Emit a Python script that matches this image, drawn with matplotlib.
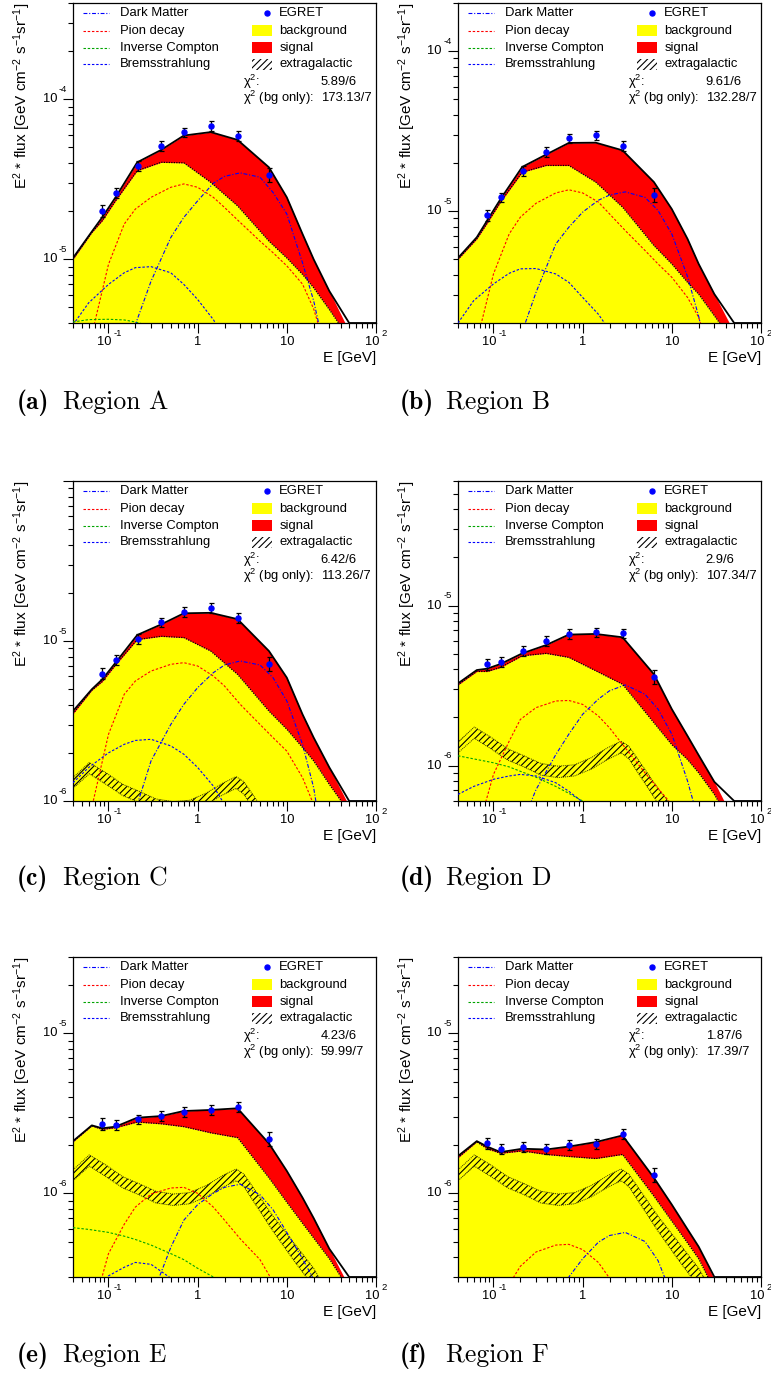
import numpy as np
import matplotlib
matplotlib.use("Agg")
import matplotlib.pyplot as plt
from matplotlib.lines import Line2D
from matplotlib.patches import Rectangle
from matplotlib.transforms import Bbox, TransformedBbox, offset_copy, blended_transform_factory

plt.rcParams['font.family'] = ['Liberation Sans', 'DejaVu Sans']
plt.rcParams['mathtext.fontset'] = 'custom'
plt.rcParams['mathtext.rm'] = 'Liberation Sans'
plt.rcParams['mathtext.it'] = 'Liberation Sans:italic'
plt.rcParams['hatch.linewidth'] = 0.8
plt.rcParams['hatch.color'] = 'black'

# EGRET bin centres and relative errors
E_EGRET = [0.0837, 0.122, 0.212, 0.387, 0.707, 1.41, 2.83, 6.32]
EGRET_REL_ERR = [0.08, 0.07, 0.07, 0.07, 0.07, 0.07, 0.07, 0.10]

# energies where total / background model is tabulated
E_MODEL = [0.04, 0.065, 0.085, 0.12, 0.21, 0.39, 0.7, 1.4, 2.8, 6.3, 10, 15, 20, 30, 50, 100]
# energies for the individual components
E_COMP = [0.04, 0.06, 0.1, 0.15, 0.2, 0.3, 0.5, 0.7, 1, 1.5, 2, 3, 5, 7, 10, 15, 20, 30]

# extragalactic band (same in every region)
EG_E = [0.04, 0.061, 0.094, 0.145, 0.22, 0.34, 0.53, 0.81, 1.25, 1.9, 2.7, 3.3, 7.0, 12.0, 20.0, 30.0]
EG_HI = [1.40e-6, 1.74e-6, 1.50e-6, 1.27e-6, 1.15e-6, 1.03e-6, 9.9e-7, 1.01e-6,
         1.12e-6, 1.29e-6, 1.42e-6, 1.32e-6, 7.2e-7, 4.9e-7, 3.4e-7, 2.3e-7]
EG_LO = [1.20e-6, 1.48e-6, 1.27e-6, 1.08e-6, 9.8e-7, 8.7e-7, 8.4e-7, 8.6e-7,
         9.5e-7, 1.09e-6, 1.20e-6, 1.10e-6, 5.8e-7, 3.8e-7, 2.6e-7, 1.8e-7]

# ---- Region A ----
egret_A = [2.01e-5, 2.60e-5, 3.84e-5, 5.10e-5, 6.21e-5, 6.81e-5, 5.94e-5, 3.38e-5]
total_A = [1.02e-5, 1.49e-5, 1.83e-5, 2.44e-5, 4.04e-5, 4.83e-5, 5.94e-5, 6.24e-5,
           5.58e-5, 3.76e-5, 2.44e-5, 1.44e-5, 1.0e-5, 6.33e-6, 3.55e-6, 1.0e-6]
bg_A = [1.0e-5, 1.47e-5, 1.74e-5, 2.32e-5, 3.58e-5, 4.04e-5, 4.01e-5, 3.03e-5,
        2.16e-5, 1.30e-5, 1.02e-5, 8.05e-6, 6.64e-6, 4.85e-6, 3.2e-6, 1.0e-6]
dm_A = [1e-7, 1e-7, 5e-7, 2.0e-6, 3.9e-6, 7.3e-6, 1.37e-5, 1.83e-5, 2.32e-5, 2.99e-5,
        3.30e-5, 3.47e-5, 3.26e-5, 2.62e-5, 1.92e-5, 9.5e-6, 5.5e-6, 2.0e-6]
pion_A = [1e-6, 2.8e-6, 9.3e-6, 1.66e-5, 2.06e-5, 2.44e-5, 2.82e-5, 2.96e-5, 2.82e-5,
          2.44e-5, 2.11e-5, 1.70e-5, 1.30e-5, 1.10e-5, 9.1e-6, 7.0e-6, 4.9e-6, 2.3e-6]
ic_A = [4.06e-6, 4.2e-6, 4.22e-6, 4.18e-6, 4.06e-6, 3.82e-6, 3.4e-6, 3.1e-6, 2.8e-6,
        2.4e-6, 2.1e-6, 1.7e-6, 1.2e-6, 9e-7, 6e-7, 4e-7, 3e-7, 2e-7]
brems_A = [3.9e-6, 5.35e-6, 6.97e-6, 8.24e-6, 8.87e-6, 9.0e-6, 8.24e-6, 6.97e-6, 5.61e-6,
           4.2e-6, 3.2e-6, 2.0e-6, 1.0e-6, 6e-7, 3e-7, 1e-7, 5e-8, 2e-8]

# ---- Region B ----
egret_B = [9.48e-6, 1.22e-5, 1.78e-5, 2.34e-5, 2.85e-5, 2.98e-5, 2.55e-5, 1.26e-5]
total_B = [5.1e-6, 6.87e-6, 8.75e-6, 1.19e-5, 1.89e-5, 2.26e-5, 2.67e-5, 2.68e-5,
           2.40e-5, 1.52e-5, 1.03e-5, 6.71e-6, 4.68e-6, 3.03e-6, 1.75e-6, 5e-7]
bg_B = [5.0e-6, 6.71e-6, 8.41e-6, 1.14e-5, 1.75e-5, 1.93e-5, 1.93e-5, 1.52e-5,
        1.06e-5, 6.1e-6, 4.68e-6, 3.59e-6, 3.03e-6, 2.22e-6, 1.5e-6, 5e-7]
dm_B = [1e-7, 1e-7, 3e-7, 1.0e-6, 1.63e-6, 3.11e-6, 6.24e-6, 7.94e-6, 9.86e-6, 1.17e-5,
        1.26e-5, 1.32e-5, 1.22e-5, 1.01e-5, 7.2e-6, 3.9e-6, 2.2e-6, 8e-7]
pion_B = [5e-7, 1.28e-6, 4.05e-6, 7.21e-6, 9.17e-6, 1.12e-5, 1.30e-5, 1.36e-5, 1.30e-5,
          1.14e-5, 9.62e-6, 7.57e-6, 5.68e-6, 4.68e-6, 3.86e-6, 2.89e-6, 2.17e-6, 1.0e-6]
ic_B = [1.6e-6, 1.6e-6, 1.6e-6, 1.55e-6, 1.5e-6, 1.45e-6, 1.3e-6, 1.2e-6, 1.1e-6,
        1.0e-6, 9e-7, 7.5e-7, 5.5e-7, 4e-7, 3e-7, 2e-7, 1.5e-7, 1e-7]
brems_B = [2.0e-6, 2.76e-6, 3.51e-6, 4.09e-6, 4.36e-6, 4.38e-6, 4.05e-6, 3.59e-6, 2.89e-6,
           2.27e-6, 1.8e-6, 1.1e-6, 5e-7, 3e-7, 1.5e-7, 7e-8, 4e-8, 2e-8]

# ---- Region C ----
egret_C = [6.25e-6, 7.64e-6, 1.03e-5, 1.31e-5, 1.52e-5, 1.61e-5, 1.39e-5, 7.18e-6]
total_C = [3.65e-6, 4.99e-6, 5.75e-6, 7.32e-6, 1.09e-5, 1.27e-5, 1.49e-5, 1.50e-5,
           1.37e-5, 8.66e-6, 5.90e-6, 3.48e-6, 2.49e-6, 1.62e-6, 9.3e-7, 3e-7]
bg_C = [3.51e-6, 4.92e-6, 5.57e-6, 7.08e-6, 1.02e-5, 1.07e-5, 1.05e-5, 8.66e-6,
        6.19e-6, 3.65e-6, 2.81e-6, 2.16e-6, 1.78e-6, 1.27e-6, 8.5e-7, 3e-7]
dm_C = [1e-7, 1e-7, 2e-7, 4e-7, 8.7e-7, 1.78e-6, 3.01e-6, 4.02e-6, 5.11e-6, 6.34e-6,
        7.08e-6, 7.5e-6, 7.08e-6, 5.9e-6, 4.22e-6, 2.26e-6, 1.21e-6, 3e-7]
pion_C = [2e-7, 7.5e-7, 2.61e-6, 4.64e-6, 5.62e-6, 6.49e-6, 7.15e-6, 7.32e-6, 6.98e-6,
          6.04e-6, 5.23e-6, 4.02e-6, 3.01e-6, 2.49e-6, 2.05e-6, 1.40e-6, 9.5e-7, 4e-7]
ic_C = [8e-7, 8e-7, 7.8e-7, 7.5e-7, 7.2e-7, 6.8e-7, 6e-7, 5.5e-7, 5e-7, 4.3e-7,
        3.8e-7, 3.1e-7, 2.3e-7, 1.8e-7, 1.3e-7, 9e-8, 7e-8, 4e-8]
brems_C = [1.30e-6, 1.62e-6, 2.0e-6, 2.26e-6, 2.39e-6, 2.43e-6, 2.21e-6, 1.96e-6, 1.62e-6,
           1.24e-6, 9.5e-7, 6e-7, 3e-7, 1.5e-7, 8e-8, 4e-8, 2e-8, 1e-8]

# ---- Region D ----
egret_D = [4.31e-6, 4.45e-6, 5.19e-6, 6.00e-6, 6.64e-6, 6.80e-6, 6.70e-6, 3.58e-6]
total_D = [3.26e-6, 3.95e-6, 4.03e-6, 4.31e-6, 5.02e-6, 5.66e-6, 6.58e-6, 6.64e-6,
           6.33e-6, 3.72e-6, 2.25e-6, 1.53e-6, 1.16e-6, 7.9e-7, 4.5e-7, 1.5e-7]
bg_D = [3.19e-6, 3.87e-6, 3.87e-6, 4.10e-6, 4.85e-6, 5.02e-6, 4.74e-6, 3.91e-6,
        3.22e-6, 1.85e-6, 1.35e-6, 1.09e-6, 9.0e-7, 6.6e-7, 4.0e-7, 1.5e-7]
dm_D = [1e-7, 1e-7, 1e-7, 2e-7, 4.06e-7, 7.07e-7, 1.17e-6, 1.57e-6, 2.09e-6, 2.60e-6,
        2.93e-6, 3.19e-6, 2.79e-6, 2.25e-6, 1.57e-6, 8.0e-7, 4.5e-7, 1.5e-7]
pion_D = [1e-7, 3.2e-7, 8.8e-7, 1.42e-6, 1.94e-6, 2.30e-6, 2.53e-6, 2.55e-6, 2.41e-6,
          2.04e-6, 1.72e-6, 1.29e-6, 9.0e-7, 7.2e-7, 5.7e-7, 3e-7, 2e-7, 1e-7]
ic_D = [1.15e-6, 1.10e-6, 1.04e-6, 9.8e-7, 9.2e-7, 8.45e-7, 7.4e-7, 6.7e-7, 6.0e-7,
        5.2e-7, 4.7e-7, 4.0e-7, 3.1e-7, 2.6e-7, 2.1e-7, 1.6e-7, 1.3e-7, 9e-8]
brems_D = [6.6e-7, 7.4e-7, 8.2e-7, 8.6e-7, 8.8e-7, 8.6e-7, 7.8e-7, 6.9e-7, 5.9e-7,
           4.5e-7, 3.5e-7, 2.3e-7, 1.2e-7, 7e-8, 4e-8, 2e-8, 1e-8, 5e-9]

# ---- Region E ----
egret_E = [2.72e-6, 2.69e-6, 2.90e-6, 3.04e-6, 3.24e-6, 3.32e-6, 3.47e-6, 2.20e-6]
total_E = [2.12e-6, 2.66e-6, 2.55e-6, 2.61e-6, 2.97e-6, 3.04e-6, 3.27e-6, 3.32e-6,
           3.40e-6, 2.05e-6, 1.38e-6, 9.4e-7, 7.0e-7, 4.5e-7, 2.6e-7, 8e-8]
bg_E = [2.10e-6, 2.64e-6, 2.51e-6, 2.57e-6, 2.79e-6, 2.72e-6, 2.61e-6, 2.39e-6,
        2.23e-6, 1.25e-6, 8.8e-7, 6.5e-7, 5.26e-7, 3.9e-7, 2.5e-7, 7e-8]
dm_E = [5e-8, 5e-8, 5e-8, 6e-8, 8e-8, 2.2e-7, 4.6e-7, 6.8e-7, 8.5e-7, 1.0e-6,
        1.09e-6, 1.14e-6, 9.8e-7, 7.9e-7, 5.7e-7, 3.9e-7, 2.9e-7, 1e-7]
pion_E = [5e-8, 1.5e-7, 4.2e-7, 6.4e-7, 8.2e-7, 9.9e-7, 1.08e-6, 1.09e-6, 1.0e-6,
          8.2e-7, 6.8e-7, 5.2e-7, 3.85e-7, 2.8e-7, 1.8e-7, 1e-7, 6e-8, 3e-8]
ic_E = [6.1e-7, 5.95e-7, 5.7e-7, 5.4e-7, 5.15e-7, 4.75e-7, 4.2e-7, 3.85e-7, 3.4e-7,
        3.0e-7, 2.6e-7, 2.1e-7, 1.6e-7, 1.3e-7, 1e-7, 7e-8, 5e-8, 3e-8]
brems_E = [1.8e-7, 2.3e-7, 3.05e-7, 3.45e-7, 3.7e-7, 3.6e-7, 2.95e-7, 2.5e-7, 2.0e-7,
           1.5e-7, 1.2e-7, 8e-8, 5e-8, 3e-8, 2e-8, 1e-8, 5e-9, 3e-9]

# ---- Region F ----
egret_F = [2.05e-6, 1.90e-6, 1.96e-6, 1.90e-6, 2.00e-6, 2.03e-6, 2.35e-6, 1.31e-6]
total_F = [1.71e-6, 2.12e-6, 1.96e-6, 1.81e-6, 1.90e-6, 1.88e-6, 1.96e-6, 2.09e-6,
           2.30e-6, 1.25e-6, 8.5e-7, 5.96e-7, 4.64e-7, 2.9e-7, 1.2e-7, 3e-8]
bg_F = [1.67e-6, 2.10e-6, 1.90e-6, 1.78e-6, 1.84e-6, 1.75e-6, 1.70e-6, 1.65e-6,
        1.75e-6, 9.6e-7, 6.7e-7, 4.9e-7, 3.9e-7, 2.5e-7, 1.0e-7, 2.5e-8]
dm_F = [2e-8, 2e-8, 3e-8, 5e-8, 6e-8, 8e-8, 1.5e-7, 3.0e-7, 3.9e-7, 4.95e-7,
        5.45e-7, 5.7e-7, 5.0e-7, 3.8e-7, 2.3e-7, 1e-7, 5e-8, 2e-8]
pion_F = [2e-8, 5e-8, 1.2e-7, 2.7e-7, 3.5e-7, 4.3e-7, 4.75e-7, 4.8e-7, 4.45e-7,
          3.7e-7, 2.95e-7, 2.0e-7, 1.2e-7, 8e-8, 5e-8, 3e-8, 2e-8, 1e-8]
ic_F = [2.2e-7, 2.15e-7, 2.1e-7, 2.0e-7, 1.9e-7, 1.8e-7, 1.6e-7, 1.5e-7, 1.35e-7,
        1.2e-7, 1.05e-7, 8.5e-8, 6.5e-8, 5e-8, 4e-8, 3e-8, 2e-8, 1.5e-8]
brems_F = [1e-7, 1.2e-7, 1.5e-7, 1.7e-7, 1.8e-7, 1.75e-7, 1.5e-7, 1.25e-7, 1e-7,
           7.5e-8, 6e-8, 4e-8, 2.5e-8, 1.5e-8, 1e-8, 5e-9, 3e-9, 2e-9]

LETTERS = ['a', 'b', 'c', 'd', 'e', 'f']
REGIONS = ['A', 'B', 'C', 'D', 'E', 'F']
YLIMS = [(4e-6, 4e-4), (2e-6, 2e-4), (1e-6, 1e-4), (6e-7, 6e-5), (3e-7, 3e-5), (3e-7, 3e-5)]
CHI2 = ['5.89/6', '9.61/6', '6.42/6', '2.9/6', '4.23/6', '1.87/6']
CHI2_BG = ['173.13/7', '132.28/7', '113.26/7', '107.34/7', '59.99/7', '17.39/7']
SHOW_EG = [False, False, True, True, True, True]

PANELS = [
    (egret_A, total_A, bg_A, dm_A, pion_A, ic_A, brems_A),
    (egret_B, total_B, bg_B, dm_B, pion_B, ic_B, brems_B),
    (egret_C, total_C, bg_C, dm_C, pion_C, ic_C, brems_C),
    (egret_D, total_D, bg_D, dm_D, pion_D, ic_D, brems_D),
    (egret_E, total_E, bg_E, dm_E, pion_E, ic_E, brems_E),
    (egret_F, total_F, bg_F, dm_F, pion_F, ic_F, brems_F),
]

W, H = 771, 1373
COL_LEFT = [73, 458]
ROW_TOP = [3, 481, 957]
AX_W, AX_H = 303, 320
CAPTION_BASE = [409, 885, 1362]
CAPTION_X = [17, 400]

DASHDOT = (0, (3.5, 1.6, 1.0, 1.6))
DASHED = (0, (2.2, 1.6))
DOTTED = (0, (1.0, 1.0))
GREEN = '#00a400'

fig = plt.figure(figsize=(W / 100, H / 100), dpi=100)


def draw_panel(ax, col, data, ylim, show_eg, chi2, chi2_bg):
    egret, total, bg, dm, pion, ic, brems = data
    lo, hi = ylim
    ax.set_xscale('log')
    ax.set_yscale('log')
    ax.set_xlim(0.04, 100)
    ax.set_ylim(lo, hi)

    ax.fill_between(E_MODEL, lo / 10, bg, color='#ffff00', lw=0, zorder=1)
    ax.fill_between(E_MODEL, bg, total, color='#ff0000', lw=0, zorder=1)
    if show_eg:
        ax.fill_between(EG_E, EG_LO, EG_HI, facecolor='none', edgecolor='black',
                        hatch='/////', lw=0, zorder=2)
        ax.plot(EG_E, EG_LO, color='#333300', ls=DOTTED, lw=0.7, zorder=2)
        ax.plot(EG_E, EG_HI, color='#333300', ls=DOTTED, lw=0.7, zorder=2)

    ax.plot(E_COMP, pion, color='#ff0000', ls=DASHED, lw=0.8, zorder=3)
    ax.plot(E_COMP, ic, color=GREEN, ls=DASHED, lw=0.8, zorder=3)
    ax.plot(E_COMP, brems, color='#0000ff', ls=DASHED, lw=0.8, zorder=3)
    ax.plot(E_COMP, dm, color='#0000ff', ls=DASHDOT, lw=0.8, zorder=3)
    ax.plot(E_MODEL, bg, color='black', ls=DOTTED, lw=0.9, zorder=4)
    # the total curve runs along the lower frame once it leaves the range
    ax.plot(E_MODEL, np.maximum(total, lo), color='black', lw=1.3, zorder=4)

    err = np.array(egret) * np.array(EGRET_REL_ERR)
    ax.errorbar(E_EGRET, egret, yerr=err, fmt='o', color='#0000ff', ms=3.6,
                ecolor='black', elinewidth=0.9, capsize=1.8, capthick=0.9, zorder=6)

    # frame and ticks
    for sp in ax.spines.values():
        sp.set_linewidth(0.9)
    ax.tick_params(which='both', direction='out', top=False, right=False,
                   labelleft=False, labelbottom=False, width=0.8)
    ax.tick_params(which='major', length=7)
    ax.tick_params(which='minor', length=3.5)

    # y tick labels: "10" with a raised exponent
    ytr = blended_transform_factory(ax.transAxes, ax.transData)
    for p in range(-8, 0):
        v = 10.0 ** p
        if lo * 0.999 <= v < hi * 0.999:
            ax.text(0, v, '10', fontsize=9.3, ha='right', va='center',
                    transform=offset_copy(ytr, fig, x=-16, y=0, units='dots'))
            ax.text(0, v, '-%d' % (-p), fontsize=6.8, ha='left', va='center',
                    transform=offset_copy(ytr, fig, x=-14, y=10, units='dots'))

    # x tick labels
    xtr = blended_transform_factory(ax.transData, ax.transAxes)
    clip = TransformedBbox(Bbox([[0, 0], [388 / W if col == 0 else 1.0, 1]]), fig.transFigure)
    for v, base, exp in [(0.1, '10', '-1'), (1, '1', ''), (10, '10', ''), (100, '10', '2')]:
        if exp:
            t1 = ax.text(v, 0, base, fontsize=9.3, ha='right', va='center',
                         transform=offset_copy(xtr, fig, x=3.5, y=-19, units='dots'))
            t2 = ax.text(v, 0, exp, fontsize=6.8, ha='left', va='center',
                         transform=offset_copy(xtr, fig, x=5, y=-11, units='dots'))
            for t in (t1, t2):
                t.set_clip_on(True)
                t.set_clip_box(clip)
        else:
            ax.text(v, 0, base, fontsize=9.3, ha='center', va='center',
                    transform=offset_copy(xtr, fig, x=0, y=-19, units='dots'))

    ax.text(1.0, 0, 'E [GeV]', fontsize=11, ha='right', va='center',
            transform=offset_copy(ax.transAxes, fig, x=0, y=-35, units='dots'))
    ax.text(0, 1.0, r'E$^{2}$ * flux [GeV cm$^{-2}$ s$^{-1}$sr$^{-1}$]', fontsize=11,
            rotation=90, ha='center', va='top',
            transform=offset_copy(ax.transAxes, fig, x=-51, y=0, units='dots'))

    # legend
    tr = ax.transAxes
    rows = [0.968, 0.913, 0.860, 0.808]
    styles = [('#0000ff', DASHDOT), ('#ff0000', DASHED), (GREEN, DASHED), ('#0000ff', DASHED)]
    names = ['Dark Matter', 'Pion decay', 'Inverse Compton', 'Bremsstrahlung']
    for y, (c, ls), name in zip(rows, styles, names):
        ax.add_line(Line2D([0.033, 0.119], [y, y], transform=tr, color=c, ls=ls, lw=0.8, zorder=7))
        ax.text(0.155, y, name, transform=tr, fontsize=9.4, ha='left', va='center', zorder=7)
    ax.add_line(Line2D([0.639], [rows[0]], transform=tr, marker='o', ms=3.6, color='#0000ff',
                       ls='none', zorder=7))
    ax.text(0.681, rows[0], 'EGRET', transform=tr, fontsize=9.4, ha='left', va='center')
    box_h = 0.034
    ax.add_patch(Rectangle((0.590, rows[1] - box_h / 2), 0.066, box_h, transform=tr,
                           facecolor='#ffff00', lw=0, zorder=7))
    ax.add_patch(Rectangle((0.590, rows[2] - box_h / 2), 0.066, box_h, transform=tr,
                           facecolor='#ff0000', lw=0, zorder=7))
    ax.add_patch(Rectangle((0.590, rows[3] - box_h / 2), 0.066, box_h, transform=tr,
                           facecolor='none', edgecolor='black', hatch='/////', lw=0, zorder=7))
    for y, name in zip(rows[1:], ['background', 'signal', 'extragalactic']):
        ax.text(0.681, y, name, transform=tr, fontsize=9.4, ha='left', va='center')
    ax.text(0.560, 0.754, r'$\mathrm{\chi}^{2}$:', transform=tr, fontsize=9.4, ha='left', va='center')
    ax.text(0.817, 0.754, chi2, transform=tr, fontsize=9.4, ha='left', va='center')
    ax.text(0.560, 0.702, r'$\mathrm{\chi}^{2}$ (bg only):', transform=tr, fontsize=9.4,
            ha='left', va='center')
    ax.text(0.817, 0.702, chi2_bg, transform=tr, fontsize=9.4, ha='left', va='center')


for i in range(6):
    row, col = divmod(i, 2)
    left = COL_LEFT[col] / W
    bottom = 1 - (ROW_TOP[row] + AX_H) / H
    ax = fig.add_axes([left, bottom, AX_W / W, AX_H / H])
    draw_panel(ax, col, PANELS[i], YLIMS[i], SHOW_EG[i], CHI2[i], CHI2_BG[i])

    # sub-figure caption
    cx = CAPTION_X[col] / W
    cy = 1 - CAPTION_BASE[row] / H
    fig.text(cx, cy, '(%s)' % LETTERS[i], family='cmb10', fontsize=18.5, va='baseline')
    fig.text(cx + 46 / W, cy, 'Region %s' % REGIONS[i], family='cmr10', fontsize=18.5,
             va='baseline')

fig.savefig('out.png', dpi=100)
